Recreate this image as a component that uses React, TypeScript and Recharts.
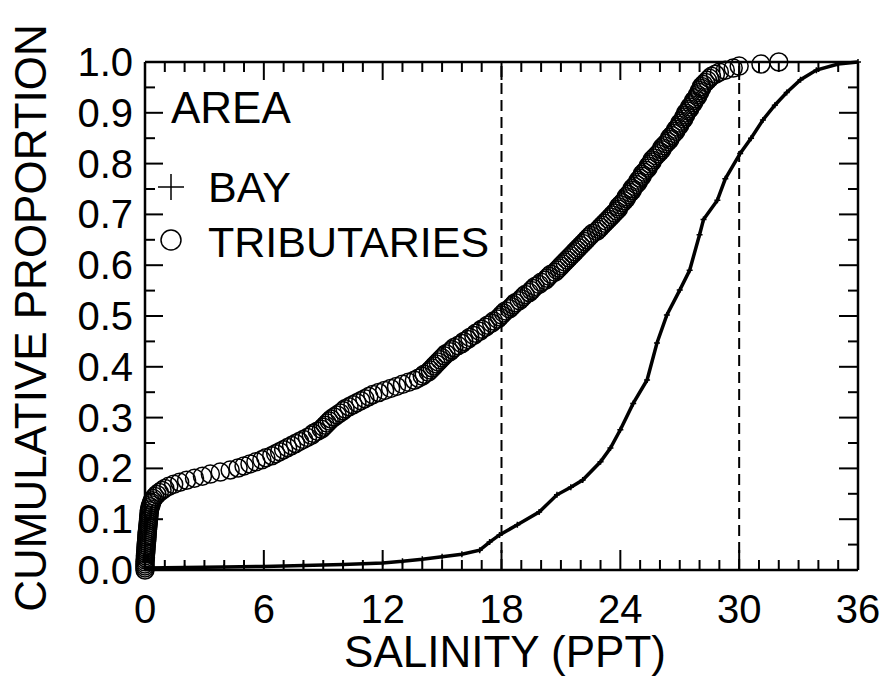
import { ScatterChart, Scatter, XAxis, YAxis, ReferenceLine, Customized } from 'recharts';

const FONT = '"Liberation Sans", Arial, Helvetica, sans-serif';

// sorted tributary salinity observations (ppt); cumulative proportion comes from rank
const tribSalinity = [
  0, 0, 0, 0, 0, 0.01, 0.02, 0.02, 0.03, 0.04, 0.05, 0.05, 0.06, 0.07, 0.08, 0.09, 0.1,
  0.1, 0.11, 0.12, 0.13, 0.14, 0.15, 0.16, 0.17, 0.18, 0.19, 0.2, 0.21, 0.22, 0.24, 0.26, 0.3,
  0.33, 0.37, 0.42, 0.5, 0.6, 0.72, 0.86, 1.0, 1.2, 1.45, 1.75, 2.1, 2.5, 2.9, 3.3, 3.8, 4.3,
  4.7, 5.0, 5.3, 5.6, 5.9, 6.1, 6.4, 6.6, 6.8, 7.0, 7.2, 7.4, 7.6, 7.8, 8.0, 8.2, 8.4, 8.5,
  8.7, 8.9, 9.0, 9.1, 9.2, 9.3, 9.4,
  9.55, 9.7, 9.85, 10.0, 10.1, 10.3, 10.5, 10.7, 10.9, 11.1, 11.3, 11.5, 11.8, 12.1, 12.4,
  12.7, 13.0, 13.3, 13.6, 13.8, 14.0, 14.1, 14.3, 14.4, 14.5,
  14.6, 14.7, 14.8, 14.9, 15.0, 15.1, 15.2, 15.4, 15.5, 15.6, 15.8, 16.0, 16.1, 16.3, 16.4,
  16.6, 16.7, 16.9, 17.0, 17.2, 17.3, 17.5, 17.6, 17.8, 17.9,
  18.0, 18.1, 18.2, 18.4, 18.5, 18.6, 18.7, 18.9, 19.0, 19.1, 19.2, 19.4, 19.5, 19.6, 19.7,
  19.9, 20.0, 20.2, 20.3, 20.4, 20.5, 20.7, 20.8, 20.9, 21.0,
  21.1, 21.2, 21.3, 21.4, 21.5, 21.6, 21.7, 21.8, 21.9, 22.0, 22.1, 22.2, 22.3, 22.4, 22.5,
  22.6, 22.8, 22.9, 23.0, 23.1, 23.2, 23.3, 23.4, 23.5, 23.6,
  23.7, 23.8, 23.9, 23.9, 24.0, 24.1, 24.2, 24.3, 24.3, 24.4, 24.5, 24.6, 24.6, 24.7, 24.8,
  24.9, 24.9, 25.0, 25.1, 25.1, 25.2, 25.3, 25.4, 25.4, 25.5,
  25.6, 25.6, 25.7, 25.8, 25.9, 26.0, 26.1, 26.1, 26.2, 26.3, 26.4, 26.5, 26.5, 26.6, 26.7,
  26.8, 26.8, 26.9, 27.0, 27.0, 27.1, 27.2, 27.2, 27.3, 27.3,
  27.4, 27.5, 27.5, 27.6, 27.7, 27.7, 27.8, 27.9, 27.9, 28.0, 28.0, 28.1, 28.1, 28.2, 28.3,
  28.4, 28.5, 28.6, 28.8, 29.0, 29.3, 29.7, 30.0, 31.1, 32.0,
];

// bay cumulative curve
const baySalinity = [
  0, 2, 4, 6, 8, 10, 12, 13, 14, 15, 16, 16.9, 17.4, 17.9, 18.8, 19.9, 20.8, 21.5, 22.1, 23.0,
  23.5, 24.0, 24.65, 25.35, 25.85, 26.35, 27.0, 27.5, 28.0, 28.2, 28.9, 29.3, 30.05, 30.6, 31.2,
  31.8, 32.4, 33.1, 33.9, 35.0, 36.0,
];
const bayProportion = [
  0.004, 0.005, 0.006, 0.007, 0.009, 0.011, 0.014, 0.017, 0.021, 0.026, 0.031, 0.039, 0.055,
  0.069, 0.089, 0.114, 0.148, 0.163, 0.177, 0.213, 0.24, 0.276, 0.328, 0.374, 0.447, 0.502,
  0.551, 0.59, 0.66, 0.69, 0.728, 0.77, 0.82, 0.85, 0.886, 0.915, 0.94, 0.965, 0.984, 0.996, 1.0,
];

const xTicks = [
  0, 1, 2, 3, 4, 5, 6, 7, 8, 9, 10, 11, 12, 13, 14, 15, 16, 17, 18,
  19, 20, 21, 22, 23, 24, 25, 26, 27, 28, 29, 30, 31, 32, 33, 34, 35, 36,
];
const xMajor = [0, 6, 12, 18, 24, 30, 36];
const yTicks = [
  0, 0.05, 0.1, 0.15, 0.2, 0.25, 0.3, 0.35, 0.4, 0.45, 0.5,
  0.55, 0.6, 0.65, 0.7, 0.75, 0.8, 0.85, 0.9, 0.95, 1.0,
];
const cutoffs = [18, 30];

const tribData = tribSalinity.map((s, i) => ({ x: s, y: i / (tribSalinity.length - 1) }));
const bayData = baySalinity.map((s, i) => ({ x: s, y: bayProportion[i] }));

const isMajorY = (v: number) => Math.round(v * 100) % 10 === 0;

// plot box is 713 x 508 px; inward tick lengths converted to data units
const PX_X = 36 / 713;
const PX_Y = 1 / 508;

const BottomLabel = (props: any) =>
  xMajor.includes(props.payload.value) ? (
    <text x={props.x} y={props.y + 53} textAnchor="middle" fontSize={40} fontFamily={FONT} fill="#000">
      {props.payload.value}
    </text>
  ) : (
    <g />
  );

const LeftLabel = (props: any) =>
  isMajorY(props.payload.value) ? (
    <text x={props.x - 12} y={props.y + 14} textAnchor="end" fontSize={40} fontFamily={FONT} fill="#000">
      {props.payload.value.toFixed(1)}
    </text>
  ) : (
    <g />
  );

const Circle = (props: any) => (
  <circle cx={props.cx} cy={props.cy} r={9} fill="none" stroke="#000" strokeWidth={1.5} />
);

const Plus = (props: any) => (
  <path
    d={`M${props.cx - 3},${props.cy}H${props.cx + 3}M${props.cx},${props.cy - 3}V${props.cy + 3}`}
    stroke="#000"
    strokeWidth={1.5}
  />
);

// legend block and axis titles
const Annotations = () => (
  <g fontFamily={FONT} fill="#000">
    <text x={171} y={123} fontSize={44}>AREA</text>
    <path d="M158,187H184M171,174V200" stroke="#000" strokeWidth={1.5} />
    <text x={208} y={202} fontSize={43}>BAY</text>
    <circle cx={171} cy={240} r={10} fill="none" stroke="#000" strokeWidth={1.5} />
    <text x={208} y={257} fontSize={43}>TRIBUTARIES</text>
    <text x={505} y={667} fontSize={44} textAnchor="middle">SALINITY (PPT)</text>
    <text x={46} y={318} fontSize={44} textAnchor="middle" transform="rotate(-90 46 318)">
      CUMULATIVE PROPORTION
    </text>
  </g>
);

const axisLine = { stroke: '#000', strokeWidth: 2.5 };
const tickStyle = { stroke: '#000', strokeWidth: 2 };

export default function App() {
  return (
    <div style={{ position: 'absolute', left: 0, top: 0, background: '#fff' }}>
      <ScatterChart width={889} height={692} margin={{ top: 61, right: 30, bottom: 121, left: 144 }}>
        <XAxis
          xAxisId="b"
          type="number"
          dataKey="x"
          domain={[0, 36]}
          ticks={xTicks}
          interval={0}
          height={1}
          tickSize={0}
          tickMargin={0}
          tickLine={false}
          axisLine={axisLine}
          tick={BottomLabel}
        />
        <XAxis
          xAxisId="t"
          orientation="top"
          type="number"
          dataKey="x"
          domain={[0, 36]}
          height={1}
          tick={false}
          tickLine={false}
          axisLine={axisLine}
        />
        <YAxis
          yAxisId="l"
          type="number"
          dataKey="y"
          domain={[0, 1]}
          ticks={yTicks}
          interval={0}
          width={1}
          tickSize={0}
          tickMargin={0}
          tickLine={false}
          axisLine={axisLine}
          tick={LeftLabel}
        />
        <YAxis
          yAxisId="r"
          orientation="right"
          type="number"
          dataKey="y"
          domain={[0, 1]}
          width={1}
          tick={false}
          tickLine={false}
          axisLine={axisLine}
        />
        {/* inward ticks on all four sides */}
        {xTicks.map((v) => {
          const len = (xMajor.includes(v) ? 20 : 10) * PX_Y;
          return (
            <ReferenceLine
              key={`b${v}`}
              xAxisId="b"
              yAxisId="l"
              segment={[{ x: v, y: 0 }, { x: v, y: len }]}
              {...tickStyle}
            />
          );
        })}
        {xTicks.map((v) => {
          const len = (xMajor.includes(v) ? 18 : 10) * PX_Y;
          return (
            <ReferenceLine
              key={`t${v}`}
              xAxisId="b"
              yAxisId="l"
              segment={[{ x: v, y: 1 }, { x: v, y: 1 - len }]}
              {...tickStyle}
            />
          );
        })}
        {yTicks.map((v) => {
          const len = (isMajorY(v) ? 18 : 10) * PX_X;
          return (
            <ReferenceLine
              key={`l${v}`}
              xAxisId="b"
              yAxisId="l"
              segment={[{ x: 0, y: v }, { x: len, y: v }]}
              {...tickStyle}
            />
          );
        })}
        {yTicks.map((v) => {
          const len = (isMajorY(v) ? 19 : 10) * PX_X;
          return (
            <ReferenceLine
              key={`r${v}`}
              xAxisId="b"
              yAxisId="l"
              segment={[{ x: 36, y: v }, { x: 36 - len, y: v }]}
              {...tickStyle}
            />
          );
        })}
        {cutoffs.map((c) => (
          <ReferenceLine
            key={c}
            x={c}
            xAxisId="b"
            yAxisId="l"
            stroke="#000"
            strokeWidth={2}
            strokeDasharray="11 6"
          />
        ))}
        <Scatter
          name="TRIBUTARIES"
          data={tribData}
          xAxisId="b"
          yAxisId="l"
          shape={Circle}
          isAnimationActive={false}
        />
        <Scatter
          name="BAY"
          data={bayData}
          xAxisId="b"
          yAxisId="l"
          line={{ stroke: '#000', strokeWidth: 3.5 }}
          lineType="joint"
          shape={Plus}
          isAnimationActive={false}
        />
        <Customized component={Annotations} />
      </ScatterChart>
    </div>
  );
}
